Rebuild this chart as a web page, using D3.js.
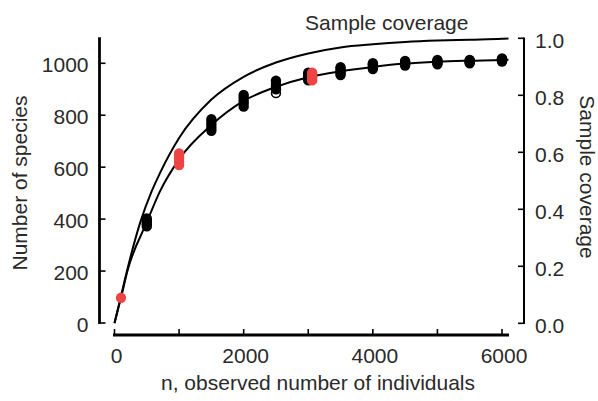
<!DOCTYPE html>
<html>
<head>
<meta charset="utf-8">
<script src="https://cdn.jsdelivr.net/npm/d3@7"></script>
<style>
  html, body { margin: 0; padding: 0; background: #fff; }
  text { font-family: "Liberation Sans", Arial, Helvetica, sans-serif; fill: #2a2a2a; }
</style>
</head>
<body>
<svg id="chart" width="598" height="401"></svg>
<script>
// ---- data ----
const xTicks = [0, 1000, 2000, 3000, 4000, 5000, 6000];
const xTickLabels = ["0", "", "2000", "", "4000", "", "6000"];
const leftTicks = [0, 200, 400, 600, 800, 1000];
const rightTicks = [0, 0.2, 0.4, 0.6, 0.8, 1.0];

// species rarefaction curve
const curveN = [0, 100, 200, 500, 700, 1000, 1500, 2000, 2500, 3000, 3500, 4000, 4500, 5000, 5500, 6000, 6100];
const curveSpecies = [0, 97, 200, 388, 505, 630, 762, 855, 909, 946, 969, 986, 999, 1006, 1010, 1013, 1014];

// sample coverage curve (right axis)
const covN = [0, 100, 200, 400, 570, 700, 1000, 1500, 2000, 2500, 3000, 3500, 4000, 4500, 5000, 5500, 6000, 6100];
const covValues = [0, 0.095, 0.19, 0.355, 0.46, 0.525, 0.65, 0.785, 0.865, 0.915, 0.947, 0.968, 0.979, 0.987, 0.992, 0.995, 0.998, 0.999];

// black (filled) subsample estimates
const blackN = [500, 1500, 2000, 2500, 3000, 3500, 4000, 4500, 5000, 5500, 6000];
const blackSpecies = [
  [372, 380, 388, 396, 403],
  [740, 752, 764, 775, 785],
  [833, 845, 856, 867, 878],
  [900, 910, 920, 933],
  [934, 942, 950, 957, 964],
  [955, 963, 970, 978, 985],
  [978, 984, 990, 995, 1000],
  [991, 996, 1001, 1005, 1009],
  [996, 1001, 1005, 1009, 1013],
  [1000, 1004, 1008, 1011, 1013],
  [1007, 1010, 1013, 1016, 1019]
];
// open marker
const openN = [2500];
const openSpecies = [885];
// red (observed) samples
const redN = [100, 1000, 3060];
const redSpecies = [
  [97],
  [608, 620, 632, 644, 653],
  [934, 942, 950, 957, 964]
];

// ---- drawing ----
const svg = d3.select("#chart");
svg.append("rect").attr("width", 598).attr("height", 401).attr("fill", "#fff");

const x = d3.scaleLinear().domain([0, 6000]).range([114.5, 502]);
const yL = d3.scaleLinear().domain([0, 1100]).range([323, 37.3]);
const yR = d3.scaleLinear().domain([0, 1]).range([323.3, 38.3]);

// bottom axis
const gx = svg.append("g").attr("transform", "translate(0,335)");
gx.append("line").attr("x1", 113).attr("x2", 509).attr("stroke", "#000").attr("stroke-width", 2.8);
gx.selectAll("line.tk").data(xTicks).join("line").attr("class", "tk")
  .attr("x1", d => x(d)).attr("x2", d => x(d)).attr("y1", 0).attr("y2", -6)
  .attr("stroke", "#000").attr("stroke-width", 1.6);
gx.selectAll("text").data(xTicks).join("text")
  .attr("x", d => x(d) + 2).attr("y", 28).attr("text-anchor", "middle")
  .attr("font-size", 21).text((d, i) => xTickLabels[i]);

// left axis
const gl = svg.append("g").attr("transform", "translate(99.5,0)");
gl.append("line").attr("y1", yL(1100)).attr("y2", yL(0) + 1).attr("stroke", "#000").attr("stroke-width", 2.8);
gl.selectAll("line.tk").data(leftTicks).join("line").attr("class", "tk")
  .attr("x1", 0).attr("x2", 6).attr("y1", d => yL(d)).attr("y2", d => yL(d))
  .attr("stroke", "#000").attr("stroke-width", 1.6);
gl.selectAll("text").data(leftTicks).join("text")
  .attr("x", -11).attr("y", d => yL(d) + 9).attr("text-anchor", "end")
  .attr("font-size", 21).text(d => d3.format("d")(d));

// right axis
const gr = svg.append("g").attr("transform", "translate(524,0)");
gr.append("line").attr("y1", yR(1) - 0.8).attr("y2", yR(0) + 0.8).attr("stroke", "#000").attr("stroke-width", 2);
gr.selectAll("line.tk").data(rightTicks).join("line").attr("class", "tk")
  .attr("x1", 0).attr("x2", -6).attr("y1", d => yR(d)).attr("y2", d => yR(d))
  .attr("stroke", "#000").attr("stroke-width", 1.6);
gr.selectAll("text").data(rightTicks).join("text")
  .attr("x", 11).attr("y", d => yR(d) + 10).attr("text-anchor", "start")
  .attr("font-size", 21).text(d => d3.format(".1f")(d));

// curves
const covLine = d3.line().x(d => x(d[0])).y(d => yR(d[1])).curve(d3.curveMonotoneX);
svg.append("path").datum(covN.map((n, i) => [n, covValues[i]]))
  .attr("d", covLine).attr("fill", "none").attr("stroke", "#000").attr("stroke-width", 2);

const spLine = d3.line().x(d => x(d[0])).y(d => yL(d[1])).curve(d3.curveMonotoneX);
svg.append("path").datum(curveN.map((n, i) => [n, curveSpecies[i]]))
  .attr("d", spLine).attr("fill", "none").attr("stroke", "#000").attr("stroke-width", 2);

// points
const R = 5.2;
const openPts = openN.map((n, i) => [n, openSpecies[i]]);
svg.append("g").selectAll("circle").data(openPts).join("circle")
  .attr("cx", d => x(d[0])).attr("cy", d => yL(d[1])).attr("r", R - 0.8)
  .attr("fill", "#fff").attr("stroke", "#000").attr("stroke-width", 1.6);

const blackPts = blackN.flatMap((n, i) => blackSpecies[i].map(s => [n, s]));
svg.append("g").selectAll("circle").data(blackPts).join("circle")
  .attr("cx", d => x(d[0])).attr("cy", d => yL(d[1])).attr("r", R).attr("fill", "#000");

const redPts = redN.flatMap((n, i) => redSpecies[i].map(s => [n, s]));
svg.append("g").selectAll("circle").data(redPts).join("circle")
  .attr("cx", d => x(d[0])).attr("cy", d => yL(d[1])).attr("r", R).attr("fill", "#ee4444");

// titles
svg.append("text").attr("x", 305).attr("y", 30).attr("font-size", 21).text("Sample coverage");
svg.append("text").attr("transform", "translate(318,390)").attr("text-anchor", "middle")
  .attr("font-size", 21).text("n, observed number of individuals");
svg.append("text").attr("transform", "translate(27,183) rotate(-90)").attr("text-anchor", "middle")
  .attr("font-size", 21).text("Number of species");
svg.append("text").attr("transform", "translate(580,177) rotate(90)").attr("text-anchor", "middle")
  .attr("font-size", 21).text("Sample coverage");
</script>
</body>
</html>
